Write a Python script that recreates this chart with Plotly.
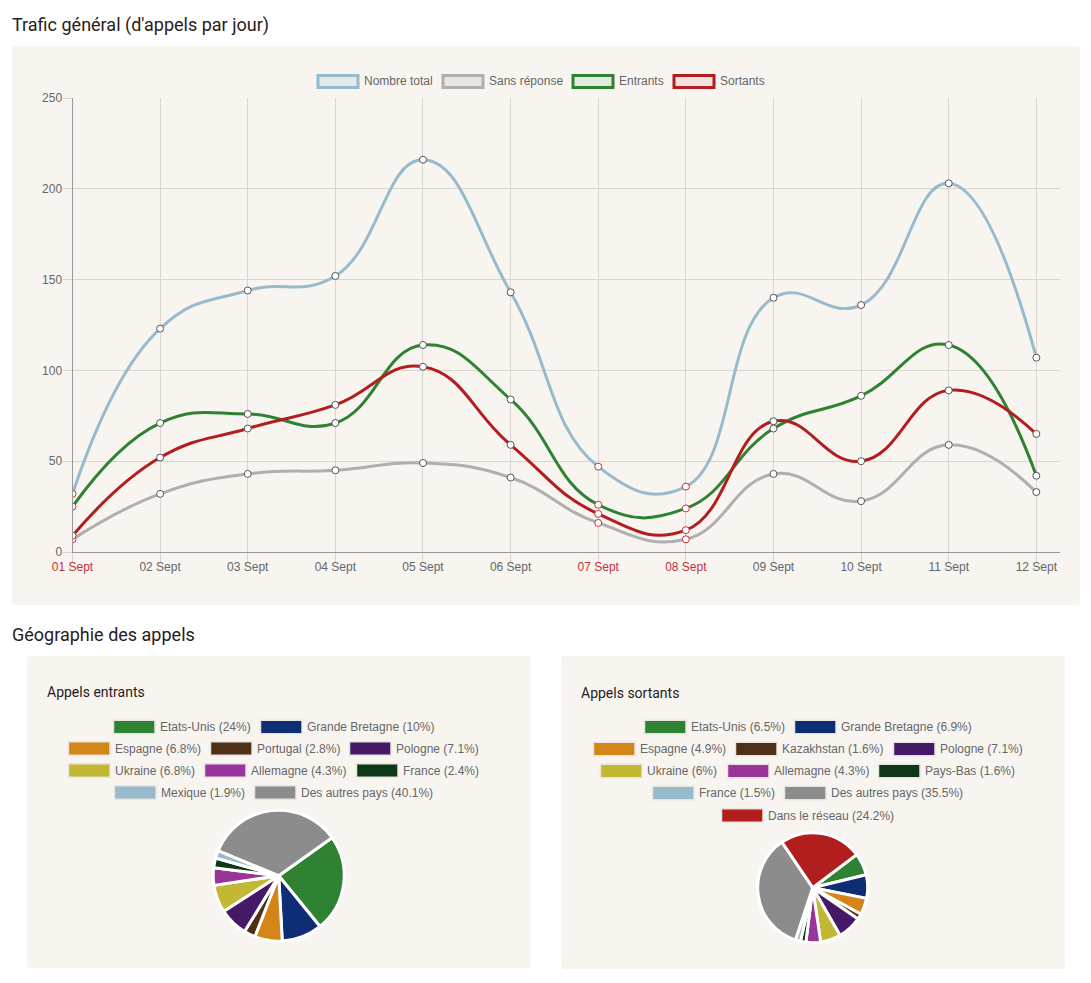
# -*- coding: utf-8 -*-
import plotly.graph_objects as go

W, H = 1091, 983
TITLE_FONT = 'Roboto'
CHART_FONT = 'Liberation Sans'

# daily traffic
days = ['01 Sept', '02 Sept', '03 Sept', '04 Sept', '05 Sept', '06 Sept',
        '07 Sept', '08 Sept', '09 Sept', '10 Sept', '11 Sept', '12 Sept']
weekend_days = ['01 Sept', '07 Sept', '08 Sept']
total_calls = [32, 123, 144, 152, 216, 143, 47, 36, 140, 136, 203, 107]
unanswered = [7, 32, 43, 45, 49, 41, 16, 7, 43, 28, 59, 33]
incoming = [25, 71, 76, 71, 114, 84, 26, 24, 68, 86, 114, 42]
outgoing = [9, 52, 68, 81, 102, 59, 21, 12, 72, 50, 89, 65]
y_ticks = [0, 50, 100, 150, 200, 250]

# pies: the slice sizes are what is drawn, the legend labels are what is printed
in_countries = ['Etats-Unis', 'Grande Bretagne', 'Espagne', 'Portugal', 'Pologne', 'Ukraine',
                'Allemagne', 'France', 'Mexique', 'Des autres pays']
in_labels = ['24%', '10%', '6.8%', '2.8%', '7.1%', '6.8%', '4.3%', '2.4%', '1.9%', '40.1%']
in_slices = [24, 10, 6.8, 2.8, 7.1, 6.8, 4.3, 2.4, 1.9, 33.9]

out_countries = ['Etats-Unis', 'Grande Bretagne', 'Espagne', 'Kazakhstan', 'Pologne', 'Ukraine',
                 'Allemagne', 'Pays-Bas', 'France', 'Des autres pays', 'Dans le réseau']
out_labels = ['6.5%', '6.9%', '4.9%', '1.6%', '7.1%', '6%', '4.3%', '1.6%', '1.5%', '35.5%', '24.2%']
out_slices = [6.5, 6.9, 4.9, 1.6, 7.1, 6, 4.3, 1.6, 1.5, 35.5, 24.2]

# colours
BLUE, GRAY, GREEN, RED = '#97bacd', '#b0aeae', '#2e8232', '#b21e1e'
pie_colors = [GREEN, '#0f2d74', '#d38617', '#4f2f16', '#431968', '#c2b833',
              '#98349a', '#0e3818', BLUE, '#8c8c8c', RED]
PANEL = '#f8f5f1'
TEXT = '#666666'
TITLE = '#2a1a1a'
GRID = '#d9d6d1'
WEEKEND = '#c4303c'


# pixel position -> paper position
def px(x):
    return x / W


def py(y):
    return 1 - y / H


def panel(x0, y0, x1, y1, r=4):
    X0, X1, Y0, Y1 = px(x0), px(x1), py(y0), py(y1)
    rx, ry = r / W, r / H
    path = (f'M {X0+rx} {Y0} L {X1-rx} {Y0} Q {X1} {Y0} {X1} {Y0-ry} L {X1} {Y1+ry} '
            f'Q {X1} {Y1} {X1-rx} {Y1} L {X0+rx} {Y1} Q {X0} {Y1} {X0} {Y1+ry} '
            f'L {X0} {Y0-ry} Q {X0} {Y0} {X0+rx} {Y0} Z')
    return dict(type='path', path=path, xref='paper', yref='paper', fillcolor=PANEL,
                line_width=0, layer='below')


def swatch(x0, y0, x1, y1, fill, border, width):
    return dict(type='rect', xref='paper', yref='paper', x0=px(x0), x1=px(x1), y0=py(y0), y1=py(y1),
                fillcolor=fill, line=dict(color=border, width=width), layer='below')


def label(x, y, text, size=12, color=TEXT, family=CHART_FONT):
    return dict(x=px(x), y=py(y), xref='paper', yref='paper', text=text, showarrow=False,
                xanchor='left', yanchor='middle', borderpad=0, borderwidth=0,
                font=dict(family=family, size=size, color=color))


shapes = [panel(12, 46, 1080, 605), panel(27, 656, 531, 968), panel(561, 656, 1065, 969)]
annotations = [
    label(12, 25, "Trafic général (d'appels par jour)", 18, TITLE, TITLE_FONT),
    label(12, 634, 'Géographie des appels', 18, TITLE, TITLE_FONT),
    label(47, 692, 'Appels entrants', 14, TITLE, TITLE_FONT),
    label(581, 693, 'Appels sortants', 14, TITLE, TITLE_FONT),
]

fig = go.Figure()

# line chart
markers = [WEEKEND if d in weekend_days else '#555555' for d in days]
series = [('Nombre total', total_calls, BLUE, '#e4eaeb', 318),
          ('Sans réponse', unanswered, GRAY, '#e8e6e2', 443),
          ('Entrants', incoming, GREEN, '#e2eae0', 573),
          ('Sortants', outgoing, RED, '#f1e2df', 674)]
for name, values, color, light, leg_x in series:
    fig.add_trace(go.Scatter(x=days, y=values, name=name, mode='lines+markers', showlegend=False,
                             cliponaxis=True,
                             line=dict(color=color, width=3, shape='spline', smoothing=1.3),
                             marker=dict(size=7, color='white', line=dict(color=markers, width=1)),
                             hoverinfo='skip'))
    shapes.append(swatch(leg_x, 75.5, leg_x + 40, 87.5, light, color, 3))
    annotations.append(label(leg_x + 46, 81, name))

# pie charts, legend rows are (y, [swatch x, ...])
in_rows = [(727, [114, 261]), (748.5, [69, 211, 350]), (770.5, [69, 205, 357]), (792.5, [115, 255])]
out_rows = [(727, [645, 795]), (749, [594, 736, 894]), (771, [601, 728, 879]),
            (793, [653, 785]), (815.5, [722])]
pies = [(in_countries, in_labels, in_slices, in_rows, 278.7, 875.7, 65.5, 54.5),
        (out_countries, out_labels, out_slices, out_rows, 812.7, 887.7, 55, 53)]
for countries, labels, slices, rows, cx, cy, r, start in pies:
    colors = pie_colors[:len(slices)]
    if len(slices) == 10:
        colors = pie_colors[:8] + [BLUE, pie_colors[9]]
    fig.add_trace(go.Pie(labels=countries, values=slices, sort=False, direction='clockwise',
                         rotation=start, textinfo='none', hoverinfo='skip', showlegend=False,
                         marker=dict(colors=colors, line=dict(color='white', width=3)),
                         domain=dict(x=[px(cx - r), px(cx + r)], y=[py(cy + r), py(cy - r)])))
    i = 0
    for y, xs in rows:
        for x in xs:
            shapes.append(swatch(x - 0.5, y - 6.75, x + 41, y + 6.75, colors[i], '#e8e4df', 1.5))
            annotations.append(label(x + 46, y, f'{countries[i]} ({labels[i]})'))
            i += 1

tick_text = [f'<span style="color:{WEEKEND}">{d}</span>' if d in weekend_days else d for d in days]

fig.update_layout(width=W, height=H, margin=dict(l=0, r=0, t=0, b=0, pad=0), autosize=False,
                  paper_bgcolor='white', plot_bgcolor='rgba(0,0,0,0)',
                  shapes=shapes, annotations=annotations, showlegend=False,
                  font=dict(family=CHART_FONT, size=12, color=TEXT))
fig.update_xaxes(type='category', domain=[px(72.5), px(1060)], range=[0, 11.27], automargin=False,
                 tickmode='array', tickvals=days, ticktext=tick_text, ticklabelstandoff=-5,
                 showgrid=True, gridcolor=GRID, gridwidth=1, ticks='outside', ticklen=9,
                 tickcolor=GRID, showline=True, linecolor='#999999', linewidth=1,
                 zeroline=False, tickangle=0, tickfont=dict(family=CHART_FONT, size=12, color=TEXT))
fig.update_yaxes(domain=[py(552), py(98)], range=[0, 250], tickvals=y_ticks, automargin=False,
                 ticklabelstandoff=-2,
                 showgrid=True, gridcolor=GRID, gridwidth=1, ticks='outside', ticklen=9,
                 tickcolor=GRID, showline=True, linecolor='#999999', linewidth=1,
                 zeroline=False, tickfont=dict(family=CHART_FONT, size=12, color=TEXT))

fig.write_html('out.html', config=dict(displayModeBar=False),
               post_script="document.body.style.margin='0';document.body.style.overflow='hidden';")
